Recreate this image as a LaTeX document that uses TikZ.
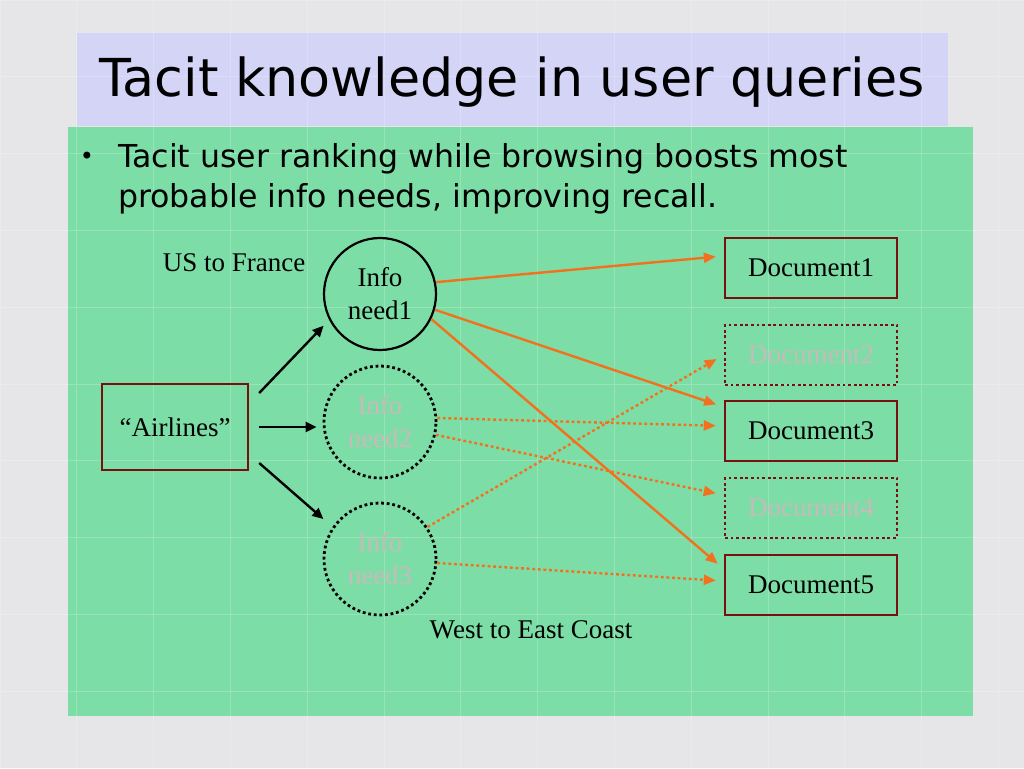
\documentclass[tikz,border=0pt]{standalone}
\usepackage{fontspec}
\usepackage{tikz}
\usetikzlibrary{arrows.meta}
\setmainfont{Liberation Serif}
\newfontfamily\slidefont{DejaVu Sans}
\definecolor{slidegrey}{RGB}{230,230,232}
\definecolor{titleblue}{RGB}{212,212,246}
\definecolor{panelgreen}{RGB}{124,222,166}
\definecolor{boxred}{RGB}{120,16,16}
\definecolor{linkorange}{RGB}{242,112,30}
\definecolor{fadedtext}{RGB}{200,186,186}
\tikzset{
  need/.style={circle,draw=black,line width=2.2pt,minimum size=112pt,inner sep=0pt,
    align=center,font=\fontsize{27}{33}\selectfont},
  doc/.style={rectangle,draw=boxred,line width=2.4pt,minimum width=172pt,
    minimum height=60pt,inner sep=0pt,font=\fontsize{27}{33}\selectfont},
  faint/.style={line width=2.8pt,dash pattern=on 2.8pt off 2.8pt,text=fadedtext},
  query/.style={black,line width=2.4pt,-{Triangle[length=11pt,width=10pt]}},
  link/.style={linkorange,line width=2.4pt,-{Triangle[length=12pt,width=10pt]},shorten >=8pt},
  guess/.style={link,dash pattern=on 2.8pt off 2.8pt}
}
\begin{document}
\begin{tikzpicture}[x=1pt,y=-1pt]
  \useasboundingbox (0,0) rectangle (1024,768);
  \fill[slidegrey] (0,0) rectangle (1024,768);
  \fill[titleblue] (77,33) rectangle (948,126);
  \fill[panelgreen] (68,127) rectangle (973,716);
  \draw[white,opacity=0.2,line width=1pt,step=76.8pt] (0,0) grid (1024,768);

  % title and bullet
  \node[font=\slidefont\fontsize{52.3}{60}\selectfont] (title) at (512,82) {Tacit knowledge in user queries};
  \node[font=\slidefont\fontsize{24}{30}\selectfont] (dot) at (87,158) {\textbullet};
  \node[anchor=base west,align=left,inner sep=0pt,
    font=\slidefont\fontsize{31.6}{40}\selectfont] (bullet) at (118,207)
    {Tacit user ranking while browsing boosts most\\
     probable info needs, improving recall.};

  % query and info needs
  \node[doc,minimum width=146pt,minimum height=86pt] (air) at (175,427) {``Airlines''};
  \node[need] (n1) at (380,294) {Info\\need1};
  \node[need,faint] (n2) at (380,422) {Info\\need2};
  \node[need,faint] (n3) at (380,559) {Info\\need3};
  \node[font=\fontsize{27}{33}\selectfont] (us) at (234,263) {US to France};
  \node[font=\fontsize{27}{33}\selectfont] (west) at (531,630) {West to East Coast};

  % documents
  \node[doc] (d1) at (811,268) {Document1};
  \node[doc,faint] (d2) at (811,355) {Document2};
  \node[doc] (d3) at (811,431) {Document3};
  \node[doc,faint] (d4) at (811,508) {Document4};
  \node[doc] (d5) at (811,585) {Document5};

  \path[query]
    ([xshift=10pt,yshift=34pt]air.east) edge[shorten >=8pt] (n1.207)
    ([xshift=10pt]air.east) edge[shorten >=6pt] (air.east -| n2.west)
    ([xshift=10pt,yshift=-36pt]air.east) edge[shorten >=12pt] (n3.146);

  \path
    (n1.12) edge[link] ([yshift=12pt]d1.west)
    (n1.-16) edge[link] ([yshift=24pt]d3.west)
    (n1.-26) edge[link] ([yshift=16pt]d5.west)
    (n2.4) edge[guess] ([yshift=5pt]d3.west)
    (n2.-13) edge[guess] ([yshift=13pt]d4.west)
    (n3.34) edge[guess] (d2.west)
    (n3.-4) edge[guess] ([yshift=4pt]d5.west);
\end{tikzpicture}
\end{document}
